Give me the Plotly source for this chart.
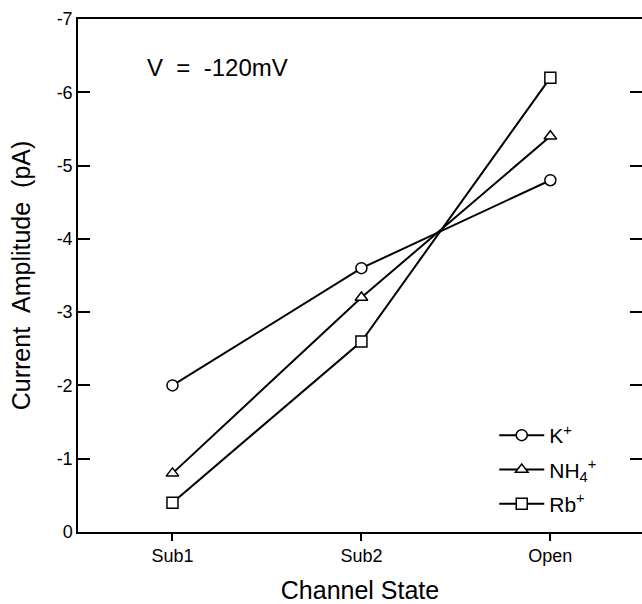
import plotly.graph_objects as go

states = ["Sub1", "Sub2", "Open"]
k_vals = [-2.0, -3.6, -4.8]
nh4_vals = [-0.8, -3.2, -5.4]
rb_vals = [-0.4, -2.6, -6.2]
y_tickvals = [0, -1, -2, -3, -4, -5, -6, -7]
y_ticktext = ["0", "-1", "-2", "-3", "-4", "-5", "-6", "-7"]

FONT = "Arial, Liberation Sans, Helvetica, sans-serif"

series = [
    ("K<sup>+</sup>", k_vals, "circle"),
    ("NH<sub>4</sub><sup>+</sup>", nh4_vals, "triangle-up"),
    ("Rb<sup>+</sup>", rb_vals, "square"),
]

fig = go.Figure()
for i, (name, vals, sym) in enumerate(series):
    fig.add_trace(go.Scatter(
        x=states, y=vals, name=name, mode="lines+markers",
        line=dict(color="black", width=2),
        marker=dict(symbol=sym, size=11, color="white",
                    line=dict(color="black", width=1.5)),
        legendgroup=f"g{i}",
    ))

# invisible trace on the right-hand axis so its inward ticks are drawn
fig.add_trace(go.Scatter(x=states, y=k_vals, yaxis="y2", mode="markers",
                         marker=dict(opacity=0), showlegend=False, hoverinfo="skip"))

fig.add_annotation(
    x=0.118, y=0.905, xref="paper", yref="paper", xanchor="left", yanchor="middle",
    text="V\u00a0\u00a0=\u00a0\u00a0-120mV", showarrow=False,
    font=dict(family=FONT, size=24, color="black"),
)

tickstyle = dict(ticks="inside", ticklen=12, tickwidth=1.5, tickcolor="black",
                 showgrid=False, zeroline=False)

fig.update_layout(
    width=642, height=604,
    margin=dict(l=78, r=0, t=19, b=72),
    paper_bgcolor="white", plot_bgcolor="white",
    font=dict(family=FONT, color="black"),
    showlegend=True,
    legend=dict(
        x=0.738, y=0.228, xanchor="left", yanchor="top",
        bgcolor="rgba(0,0,0,0)", font=dict(size=21, family=FONT),
        tracegroupgap=4, itemwidth=45,
    ),
    xaxis=dict(
        type="category", range=[-0.5, 2.485],
        showline=True, linecolor="black", linewidth=1.5, mirror=True,
        ticks="outside", ticklen=7, tickwidth=1.5, tickcolor="black",
        tickfont=dict(size=18, family=FONT),
        showgrid=False, zeroline=False,
        title=dict(text="Channel State", font=dict(size=25, family=FONT), standoff=19),
    ),
    yaxis=dict(
        range=[0, -7], tickvals=y_tickvals, ticktext=y_ticktext,
        showline=True, linecolor="black", linewidth=1.5,
        tickfont=dict(size=18, family=FONT),
        title=dict(text="Current\u00a0\u00a0Amplitude\u00a0\u00a0(pA)",
                   font=dict(size=25, family=FONT), standoff=19),
        **tickstyle,
    ),
    yaxis2=dict(
        range=[0, -7], tickvals=y_tickvals, overlaying="y", side="right",
        showline=False, showticklabels=False, **tickstyle,
    ),
)

fig.write_html("out.html")
